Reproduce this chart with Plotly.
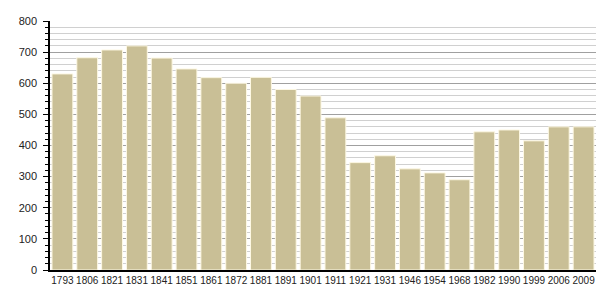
import plotly.graph_objects as go

years = ["1793", "1806", "1821", "1831", "1841", "1851", "1861", "1872", "1881", "1891", "1901",
         "1911", "1921", "1931", "1946", "1954", "1968", "1982", "1990", "1999", "2006", "2009"]
population = [630, 682, 707, 720, 681, 646, 618, 600, 619, 580, 559,
              489, 345, 367, 325, 312, 290, 444, 450, 415, 460, 460]
y_ticks = [0, 100, 200, 300, 400, 500, 600, 700, 800]

fig = go.Figure()
fig.add_trace(go.Bar(
    x=years, y=population,
    marker=dict(color="#c9bf96", line=dict(color="#fdf8e4", width=1)),
    hoverinfo="x+y",
))

fig.update_layout(
    width=605, height=300,
    margin=dict(l=50, r=9, t=21, b=30),
    paper_bgcolor="white", plot_bgcolor="white",
    bargap=0.16,
    showlegend=False,
    font=dict(family="Liberation Sans, Arial, sans-serif", size=10, color="#222"),
)
fig.update_xaxes(
    type="category",
    showline=True, linecolor="black", linewidth=1.5,
    ticks="", showgrid=False, tickfont=dict(size=10), tickangle=0,
    range=[-0.5, len(years) - 0.5],
)
fig.update_yaxes(
    range=[0, 800],
    tickvals=y_ticks, ticktext=[str(v) for v in y_ticks],
    showline=True, linecolor="black", linewidth=1.5,
    ticks="outside", ticklen=5, tickcolor="black", tickwidth=1,
    showgrid=True, gridcolor="#a0a0a0", gridwidth=1,
    minor=dict(dtick=20, ticks="outside", ticklen=3, tickcolor="black",
               showgrid=True, gridcolor="#d0d0d0", gridwidth=1),
    zeroline=False,
    ticklabelstandoff=4,
    tickfont=dict(size=11),
)

fig.write_html("out.html")
